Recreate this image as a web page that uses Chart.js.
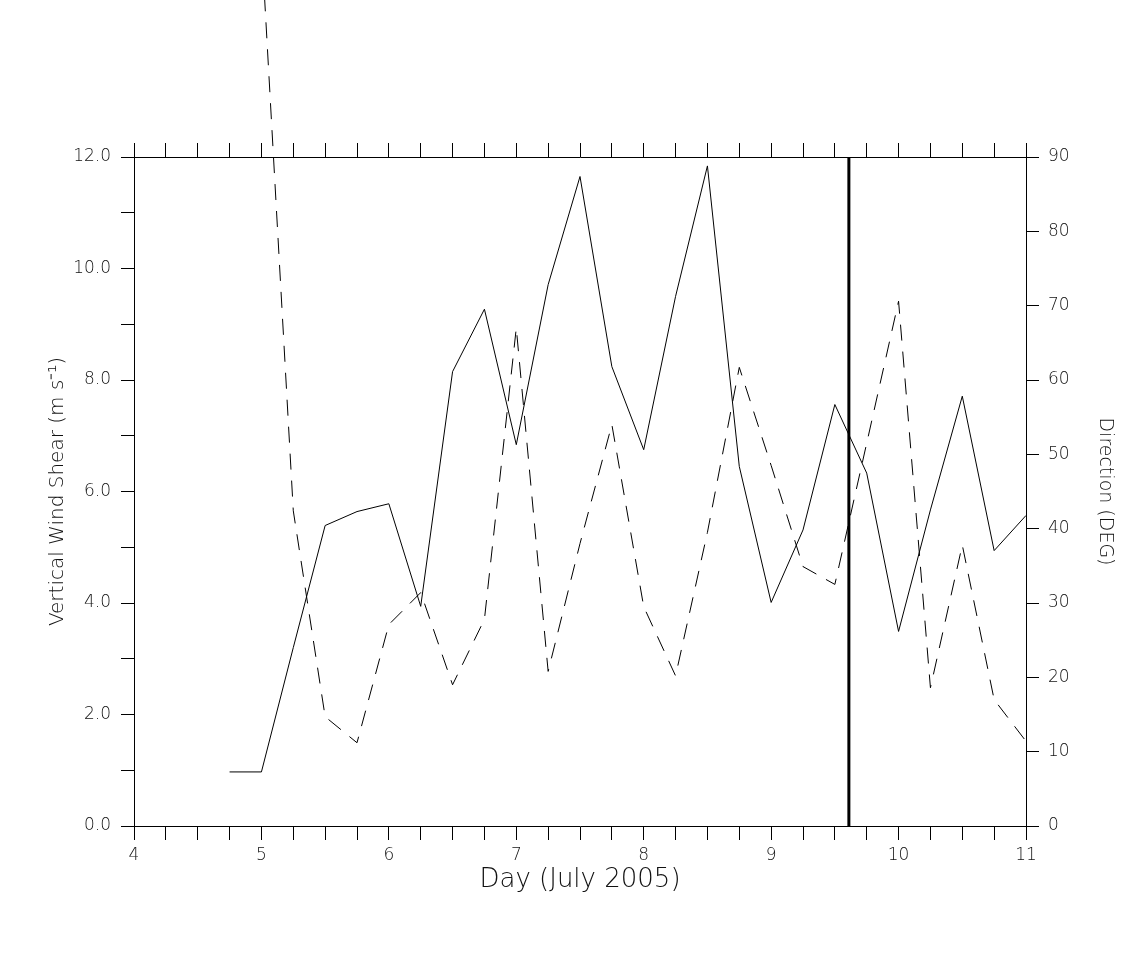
<!DOCTYPE html>
<html>
<head>
<meta charset="utf-8">
<script src="https://cdn.jsdelivr.net/npm/chart.js@4.4.0/dist/chart.umd.min.js"></script>
<style>
  html, body { margin: 0; padding: 0; background: #fff; }
  canvas { display: block; }
</style>
</head>
<body>
<canvas id="shearChart" width="1137" height="972"></canvas>
<script>
// Time axis: every 6 hours, day of July 2005
const days = [4.75, 5, 5.25, 5.5, 5.75, 6, 6.25, 6.5, 6.75, 7, 7.25, 7.5, 7.75,
              8, 8.25, 8.5, 8.75, 9, 9.25, 9.5, 9.75, 10, 10.25, 10.5, 10.75, 11];

// Vertical wind shear magnitude (m/s), left axis, solid line
const shear = [0.97, 0.97, 3.2, 5.39, 5.64, 5.78, 3.94, 8.15, 9.27, 6.84, 9.71, 11.65, 8.24,
               6.75, 9.5, 11.84, 6.45, 4.01, 5.31, 7.56, 6.33, 3.49, 5.67, 7.71, 4.94, 5.57];

// Shear direction (deg), right axis, dashed line
const direction = [null, 119, 42.4, 14.7, 11.2, 27.1, 31.4, 19.0, 27.8, 67.0, 20.8, 38.0, 54.0,
                   29.5, 20.2, 39.5, 61.7, 48.5, 34.9, 32.5, 51.5, 70.6, 18.6, 37.8, 17.0, 11.4];

const markerDay = 9.61; // thick vertical line

const tickFont = { family: 'DejaVu Sans', size: 17, weight: 300 };

// thick vertical marker line
const markerLine = {
    id: 'markerLine',
    afterDatasetsDraw(chart) {
        const x = chart.scales.x.getPixelForValue(markerDay);
        const area = chart.chartArea;
        const c = chart.ctx;
        c.save();
        c.strokeStyle = '#000';
        c.lineWidth = 3;
        c.beginPath();
        c.moveTo(x, area.top);
        c.lineTo(x, area.bottom);
        c.stroke();
        c.restore();
    }
};

const fixSize = (w, h) => scale => {
    if (w !== undefined) scale.width = w;
    if (h !== undefined) scale.height = h;
};

const ctx = document.getElementById('shearChart').getContext('2d');

const chart = new Chart(ctx, {
    type: 'line',
    data: {
        datasets: [{
            label: 'Shear',
            data: days.map((d, i) => ({ x: d, y: shear[i] })),
            yAxisID: 'y',
            borderColor: '#000',
            borderWidth: 1,
            pointRadius: 0,
            tension: 0,
            fill: false
        }, {
            label: 'Direction',
            data: days.map((d, i) => ({ x: d, y: direction[i] })),
            yAxisID: 'y2',
            borderColor: '#000',
            borderWidth: 1,
            borderDash: [16, 11],
            pointRadius: 0,
            tension: 0,
            fill: false,
            clip: false
        }]
    },
    options: {
        responsive: false,
        animation: false,
        devicePixelRatio: 1,
        layout: { padding: { top: 143, left: 0, right: 0, bottom: 0 } },
        plugins: {
            legend: { display: false },
            tooltip: { enabled: false }
        },
        scales: {
            x: {
                type: 'linear',
                position: 'bottom',
                min: 4, max: 11,
                afterFit: fixSize(undefined, 146),
                border: { color: '#000', width: 1 },
                grid: { drawOnChartArea: false, color: '#000', tickLength: 14, tickWidth: 1 },
                ticks: {
                    stepSize: 0.25, autoSkip: false, maxRotation: 0, padding: 5,
                    color: '#111', font: tickFont,
                    callback: v => Number.isInteger(v) ? String(v) : ''
                },
                title: {
                    display: true, text: 'Day (July 2005)', color: '#111',
                    font: { family: 'DejaVu Sans', size: 26, weight: 300 },
                    padding: { top: 0, bottom: 76 }
                }
            },
            xTop: {
                type: 'linear',
                position: 'top',
                min: 4, max: 11,
                afterFit: fixSize(undefined, 14),
                border: { color: '#000', width: 1 },
                grid: { drawOnChartArea: false, color: '#000', tickLength: 14, tickWidth: 1 },
                ticks: { stepSize: 0.25, autoSkip: false, callback: () => '' }
            },
            y: {
                type: 'linear',
                position: 'left',
                min: 0, max: 12,
                afterFit: fixSize(134),
                border: { color: '#000', width: 1 },
                grid: { drawOnChartArea: false, color: '#000', tickLength: 13, tickWidth: 1 },
                ticks: {
                    stepSize: 1, autoSkip: false, padding: 10,
                    color: '#111', font: tickFont,
                    callback: v => v % 2 === 0 ? v.toFixed(1) : ''
                },
                title: {
                    display: true, text: 'Vertical Wind Shear (m s\u207B\u00B9)', color: '#111',
                    font: { family: 'DejaVu Sans', size: 20, weight: 300 },
                    padding: { top: 46, bottom: 0 }
                }
            },
            y2: {
                type: 'linear',
                position: 'right',
                min: 0, max: 90,
                afterFit: fixSize(111),
                border: { color: '#000', width: 1 },
                grid: { drawOnChartArea: false, color: '#000', tickLength: 13, tickWidth: 1 },
                ticks: {
                    stepSize: 10, autoSkip: false, padding: 9,
                    color: '#111', font: tickFont,
                    callback: v => String(v)
                },
                title: {
                    display: true, text: 'Direction (DEG)', color: '#111',
                    font: { family: 'DejaVu Sans', size: 19, weight: 300 },
                    padding: { top: 21, bottom: 0 }
                }
            }
        }
    },
    plugins: [markerLine]
});
</script>
</body>
</html>
